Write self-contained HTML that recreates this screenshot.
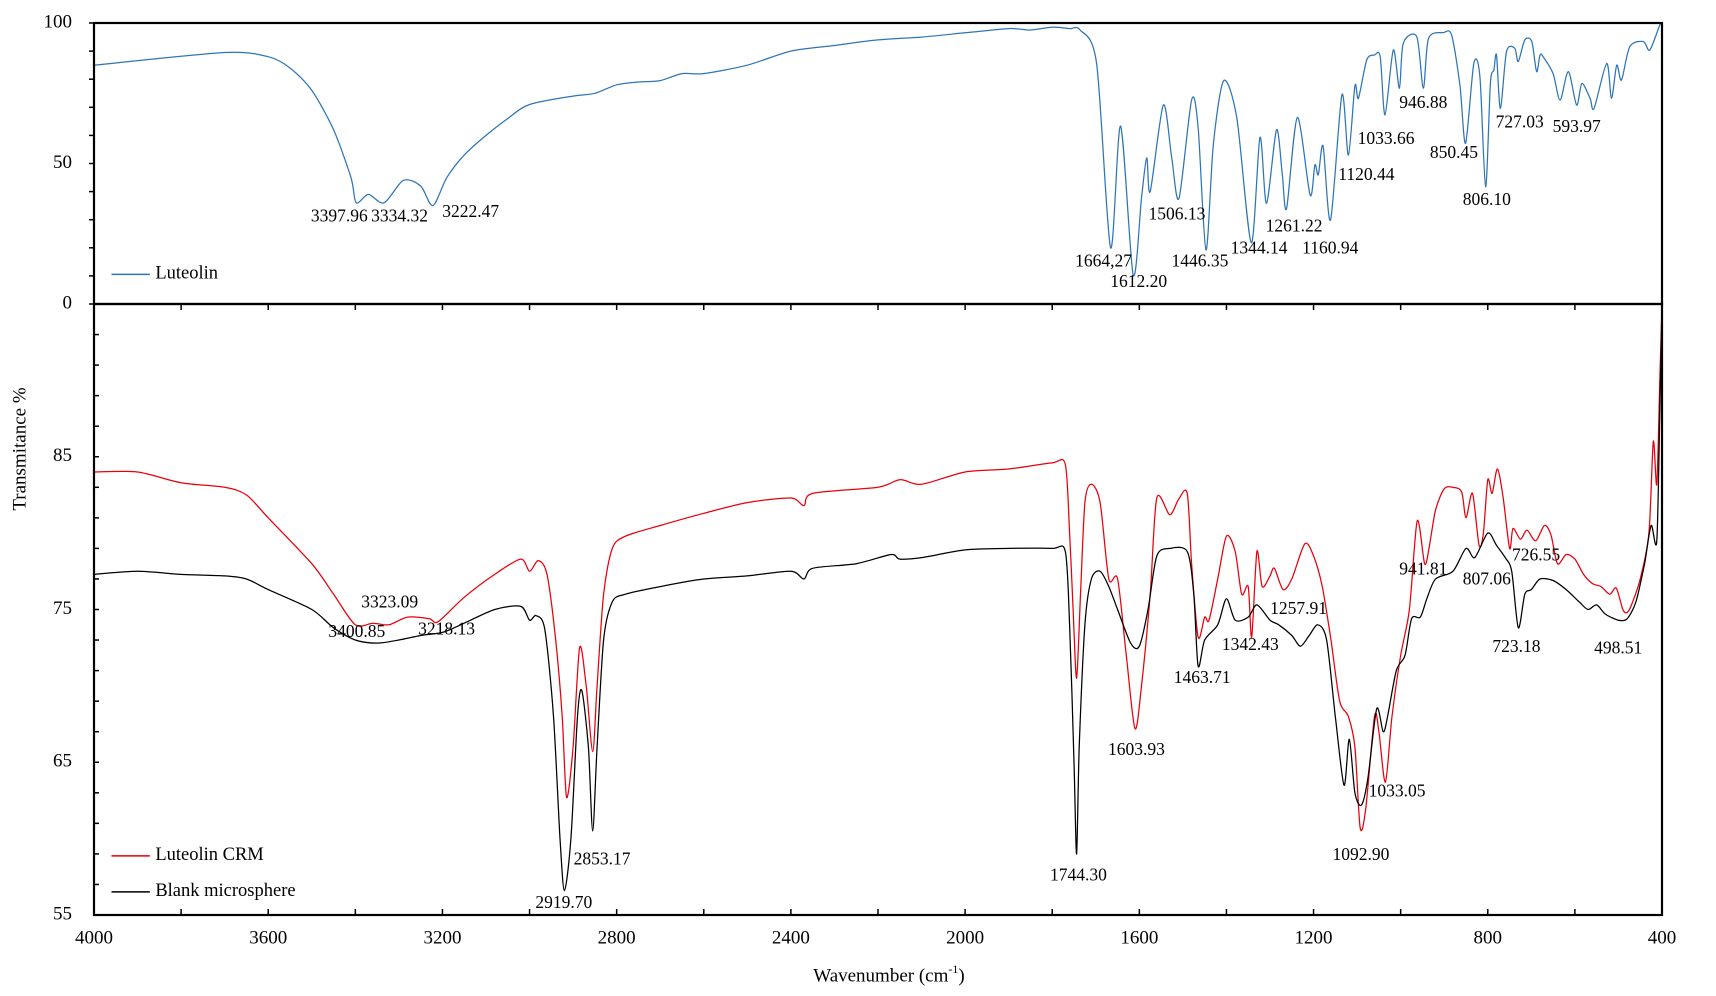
<!DOCTYPE html>
<html><head><meta charset="utf-8"><style>
html,body{margin:0;padding:0;background:#fff;}
svg{display:block;font-family:"Liberation Serif",serif;}
</style></head><body>
<svg id="chart" width="1716" height="996" viewBox="0 0 1716 996" xmlns="http://www.w3.org/2000/svg"></svg>
<script>
// ---- data ----
const lutWn = [4000,3700,3600,3550,3500,3450,3410,3398,3370,3334,3290,3250,3222,3190,3150,3100,3050,3000,2900,2850,2800,2750,2700,2650,2600,2500,2400,2300,2200,2100,2000,1900,1850,1800,1760,1736,1698,1666,1643,1614,1595,1583,1575,1545,1526,1509,1480,1465,1447,1430,1406,1376,1343,1323,1308,1285,1272,1262,1237,1208,1197,1189,1178,1161,1135,1120,1105,1097,1078,1060,1047,1036,1017,1003,994,963,948,936,902,883,864,851,832,818,805,794,786,780,771,757,738,730,715,699,688,680,673,650,634,615,596,584,565,556,527,516,504,493,474,443,428,405,400];
const lutT = [85,89.5,88,84,76,62,45,36,39,36,44,42,35,45,53,60,66,71,74,75,78,79,79.5,82,82,85,90,92,94,95,96.5,98,97.5,98.5,98,97.5,85.6,20,63.3,10.3,37.7,52,40,70.8,52.4,37.6,72.6,63,19.2,57,79.5,66,21.8,59.3,35.8,62,46.5,34,66.4,38.8,49.5,46,56.2,29.9,74.4,53,77.6,73.2,86.8,88.6,88,67.3,90.4,76.8,92.8,95.1,76.8,94.5,96.6,95.7,77.9,57.2,85.6,80.9,41.7,78.5,83.3,88.6,69.6,89.8,91,86.3,94,93.4,82.7,88.6,88,82,72.6,82.7,70.8,78.5,73.2,69.6,85.6,73.2,85,79.7,91.6,93.4,90.4,99.3,100];
const crmWn = [4000,3900,3800,3700,3650,3600,3500,3450,3400,3360,3323,3280,3230,3210,3150,3080,3020,3000,2980,2960,2940,2925,2915,2900,2885,2870,2855,2845,2830,2810,2780,2700,2600,2500,2400,2370,2350,2200,2150,2100,2000,1900,1800,1770,1760,1752,1744,1735,1725,1710,1690,1670,1650,1630,1610,1595,1575,1560,1530,1510,1490,1480,1465,1450,1440,1420,1400,1380,1365,1350,1342,1330,1318,1300,1290,1270,1250,1220,1200,1180,1160,1140,1120,1105,1093,1080,1060,1050,1035,1020,1000,980,962,945,935,920,900,880,860,850,835,820,810,800,790,778,765,750,742,725,710,690,670,655,640,620,600,580,560,540,520,505,490,480,470,450,430,420,412,405,400];
const crmT = [84,84,83.3,83,82.5,81,78,76,74,74.1,74,74.5,74.4,74.2,75.8,77.3,78.3,77.5,78.2,77.3,73,68,62.7,66,72.5,70,65.7,70,76,79,79.8,80.5,81.3,82,82.3,81.8,82.6,83,83.5,83.2,84,84.2,84.6,84.5,80,75,70.5,76,82,83.2,82,77,77,72,67.2,70,76,82.3,81.2,82.2,82.6,78,73.2,74.5,74.3,77,79.8,78.8,76,76.5,73.2,78.8,76.5,77.2,77.7,76.3,77,79.3,78.5,76.5,73,69,68,66,60.7,62,68,67,63.7,68,72,75,80.8,78,79,81.5,82.9,83,82.7,81,82.6,79.2,80,83.5,82.6,84.2,82.4,79,80.3,79.6,80.2,79.5,80.5,79.9,78,78.6,78.3,77.3,76.7,76.5,76,76.4,75,74.8,75.3,77,80,86,83.2,90,95];
const blkWn = [4000,3900,3800,3700,3650,3600,3500,3450,3400,3350,3300,3250,3200,3150,3080,3020,3000,2985,2965,2945,2930,2920,2905,2890,2880,2865,2855,2845,2830,2810,2780,2700,2600,2500,2400,2370,2350,2250,2170,2150,2100,2000,1900,1800,1770,1760,1750,1744,1738,1725,1710,1690,1670,1650,1620,1600,1580,1560,1530,1490,1475,1465,1450,1420,1400,1380,1350,1330,1300,1280,1250,1230,1210,1190,1170,1150,1130,1118,1105,1090,1075,1055,1040,1030,1010,990,975,955,940,920,880,850,830,800,780,760,745,730,715,700,680,650,620,590,570,550,530,500,480,460,440,425,412,405,400];
const blkT = [77.3,77.5,77.3,77.2,77,76.3,75,73.8,73,72.8,73,73.3,73.5,74.1,75,75.2,74.3,74.6,73.7,68,60,56.6,60,68,69.7,66,60.5,66,73,75.5,76,76.5,77,77.2,77.5,77,77.7,78,78.6,78.3,78.4,78.9,79,79,78.8,74,65,59,66,74,77,77.5,76.5,75,72.8,72.6,75,78.5,79,78.8,76,71.3,73,74,75.7,74.3,74.5,75.3,74.3,74,73.3,72.6,73.3,74,73,68,63.5,66.5,63,62.2,64,68.5,67,68,71,72,74.4,74.5,75.7,77,77.5,79,78.4,80,79.2,78.4,77.5,73.8,76,76.3,77,76.9,76.3,75.5,75,75.3,74.7,74.3,74.4,75.5,78,80.5,79.5,88,95];
const xTicks = [4000,3600,3200,2800,2400,2000,1600,1200,800,400];
const topTicks = [100,50,0];
const botTicks = [85,75,65,55];
const topLabels = [["3397.96",310,198],["3334.32",365,198],["3222.47",430,194],["1506.13",1075,196],["1664,27",1008,239],["1612.20",1040,258],["1446.35",1096,239],["1344.14",1150,227],["1261.22",1182,207],["1160.94",1215,227],["1120.44",1248,160],["1033.66",1266,127],["946.88",1300,94],["850.45",1328,140],["727.03",1388,112],["593.97",1440,116],["806.10",1358,183]];
const botLabels = [["3323.09",356,551],["3400.85",326,578],["3218.13",408,576],["2853.17",550,786],["2919.70",515,826],["1744.30",985,801],["1603.93",1038,686],["1463.71",1098,620],["1342.43",1142,590],["1257.91",1186,557],["1092.90",1243,782],["1033.05",1276,724],["941.81",1300,521],["807.06",1358,530],["726.55",1403,508],["723.18",1385,592],["498.51",1478,593]];

// ---- layout ----
const X0=94, X1=1662, TY0=23, TY1=304, BY0=304, BY1=915;
const NS="http://www.w3.org/2000/svg";
const svg=document.getElementById('chart');
const xs=w=>X0+(4000-w)/3600*(X1-X0);
const yTop=v=>TY1-v/100*(TY1-TY0);
const yBot=v=>BY1-(v-55)/40*(BY1-BY0);
const sx=x=>94+(x-86)*1.095;
const sy=y=>23+(y-20)*1.093;
function mk(tag,attrs){const e=document.createElementNS(NS,tag);for(const k in attrs)e.setAttribute(k,attrs[k]);svg.appendChild(e);return e;}
function txt(s,x,y,anchor,size){const t=mk('text',{x:x,y:y,'text-anchor':anchor,'dominant-baseline':'middle','font-size':size,fill:'#000'});t.textContent=s;return t;}

function series(wn,t,yf,color,name){
  const P=wn.map((w,i)=>[xs(w),yf(t[i])]);
  let d='M'+P[0][0].toFixed(1)+','+P[0][1].toFixed(1);
  for(let i=0;i<P.length-1;i++){
    const p0=P[Math.max(0,i-1)],p1=P[i],p2=P[i+1],p3=P[Math.min(P.length-1,i+2)];
    const k=0.14;
    const c1=[p1[0]+(p2[0]-p0[0])*k,p1[1]+(p2[1]-p0[1])*k];
    const c2=[p2[0]-(p3[0]-p1[0])*k,p2[1]-(p3[1]-p1[1])*k];
    d+='C'+c1[0].toFixed(1)+','+c1[1].toFixed(1)+' '+c2[0].toFixed(1)+','+c2[1].toFixed(1)+' '+p2[0].toFixed(1)+','+p2[1].toFixed(1);
  }
  const p=mk('path',{d:d,fill:'none',stroke:color,'stroke-width':1.25,'stroke-linejoin':'round'});
  
  
}
series(lutWn,lutT,yTop,'#2e75b6','luteolin-line');
series(crmWn,crmT,yBot,'#e8000b','luteolin-crm-line');
series(blkWn,blkT,yBot,'#000','blank-microsphere-line');

const f1=mk('rect',{x:X0,y:TY0,width:X1-X0,height:TY1-TY0,fill:'none',stroke:'#000','stroke-width':2.2});


const f2=mk('rect',{x:X0,y:BY0,width:X1-X0,height:BY1-BY0,fill:'none',stroke:'#000','stroke-width':2.2});



for(let v=0;v<=100;v+=10){mk('line',{x1:X0-5,x2:X0,y1:yTop(v),y2:yTop(v),stroke:'#000','stroke-width':1.5});}
for(let v=55;v<=95;v+=2){mk('line',{x1:X0,x2:X0+5,y1:yBot(v),y2:yBot(v),stroke:'#000','stroke-width':1.5});}
topTicks.forEach(v=>{const t=txt(String(v),72,yTop(v),'end',19);});
botTicks.forEach(v=>{const t=txt(String(v),72,yBot(v),'end',19);});
for(let w=4000;w>=400;w-=200){
  mk('line',{x1:xs(w),x2:xs(w),y1:BY1,y2:BY1-6,stroke:'#000','stroke-width':1.5});
  mk('line',{x1:xs(w),x2:xs(w),y1:TY1,y2:TY1+6,stroke:'#000','stroke-width':1.5});
}
xTicks.forEach(w=>{const t=txt(String(w),xs(w),939,'middle',19);});

topLabels.forEach(l=>{const t=txt(l[0],sx(l[1]),sy(l[2]),'middle',17.5);});
botLabels.forEach(l=>{const t=txt(l[0],sx(l[1]),sy(l[2]),'middle',17.5);});

function legend(y,color,label,name){
  const g=mk('line',{x1:sx(102),x2:sx(137),y1:sy(y),y2:sy(y),stroke:color,'stroke-width':1.5});
  
  
  const t=txt(label,sx(142),sy(y),'start',18.5);
  
  
}
legend(250,'#2e75b6','Luteolin','legend-luteolin');
legend(782,'#e8000b','Luteolin CRM','legend-luteolin-crm');
legend(815,'#000','Blank microsphere','legend-blank-microsphere');

const yt=txt('Transmitance %',0,0,'middle',19);
yt.setAttribute('transform','translate(21,449) rotate(-90)');


const xt=mk('text',{x:889,y:977,'text-anchor':'middle','dominant-baseline':'middle','font-size':19,fill:'#000'});
xt.innerHTML='Wavenumber (cm<tspan baseline-shift="super" font-size="12">-1</tspan>)';


</script>
</body></html>
